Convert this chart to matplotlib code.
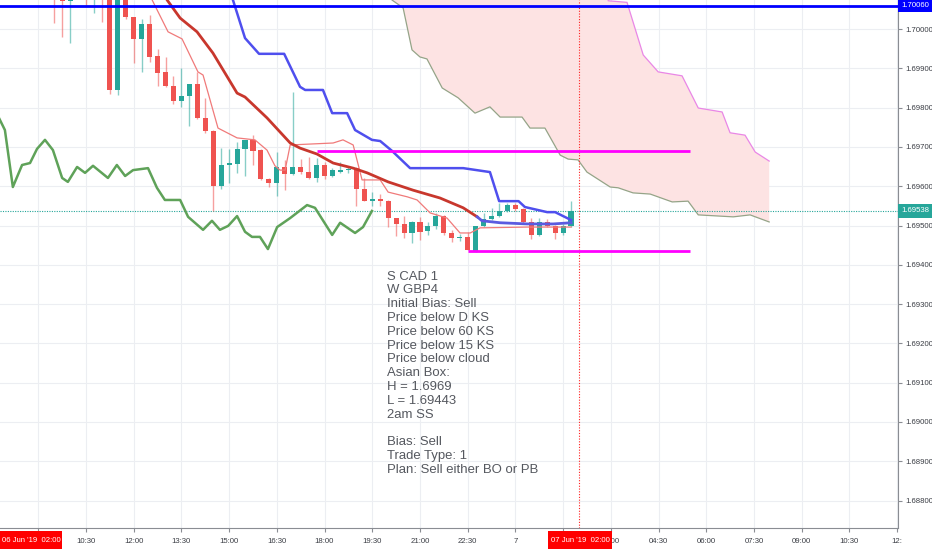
import matplotlib
matplotlib.use('Agg')
import matplotlib.pyplot as plt
import matplotlib.transforms as mtransforms
from matplotlib.patches import Rectangle
import numpy as np

# GBPCAD 15 min, time = hours since 06 Jun '19 00:00
bar_start = 9.5
bar_step = 0.25

opens = [1.70110, 1.70085, 1.70072, 1.70078, 1.70130, 1.70100, 1.70120, 1.70095, 1.69845, 1.70085,
         1.70031, 1.69975, 1.70012, 1.69931, 1.69892, 1.69855, 1.69817, 1.69830, 1.69860, 1.69774,
         1.69741, 1.69601, 1.69654, 1.69657, 1.69695, 1.69718, 1.69692, 1.69618, 1.69608, 1.69649,
         1.69631, 1.69649, 1.69636, 1.69621, 1.69654, 1.69626, 1.69636, 1.69641, 1.69646, 1.69593,
         1.69562, 1.69567, 1.69562, 1.69519, 1.69504, 1.69481, 1.69509, 1.69486, 1.69499, 1.69524,
         1.69481, 1.69468, 1.69471, 1.69436, 1.69499, 1.69517, 1.69524, 1.69537, 1.69552, 1.69542,
         1.69509, 1.69476, 1.69509, 1.69499, 1.69481, 1.69499]
highs = [1.70125, 1.70100, 1.70110, 1.70135, 1.70140, 1.70140, 1.70130, 1.70110, 1.70110, 1.70095,
         1.70032, 1.70026, 1.70036, 1.69949, 1.69929, 1.69881, 1.69901, 1.69861, 1.69891, 1.69825,
         1.69743, 1.69697, 1.69695, 1.69713, 1.69718, 1.69730, 1.69694, 1.69620, 1.69687, 1.69667,
         1.69840, 1.69669, 1.69674, 1.69672, 1.69662, 1.69646, 1.69662, 1.69650, 1.69648, 1.69621,
         1.69585, 1.69580, 1.69566, 1.69520, 1.69524, 1.69512, 1.69522, 1.69509, 1.69532, 1.69526,
         1.69489, 1.69478, 1.69484, 1.69500, 1.69532, 1.69545, 1.69557, 1.69557, 1.69557, 1.69545,
         1.69519, 1.69519, 1.69517, 1.69502, 1.69504, 1.69563]
lows = [1.70015, 1.69980, 1.69965, 1.70080, 1.70059, 1.70042, 1.70019, 1.69835, 1.69832, 1.70026,
        1.69914, 1.69891, 1.69916, 1.69855, 1.69853, 1.69809, 1.69802, 1.69753, 1.69772, 1.69736,
        1.69537, 1.69593, 1.69608, 1.69634, 1.69626, 1.69654, 1.69616, 1.69598, 1.69575, 1.69590,
        1.69629, 1.69631, 1.69618, 1.69611, 1.69618, 1.69624, 1.69634, 1.69634, 1.69550, 1.69562,
        1.69550, 1.69550, 1.69496, 1.69473, 1.69468, 1.69455, 1.69463, 1.69476, 1.69491, 1.69476,
        1.69458, 1.69460, 1.69437, 1.69433, 1.69496, 1.69514, 1.69522, 1.69534, 1.69537, 1.69507,
        1.69465, 1.69474, 1.69496, 1.69466, 1.69476, 1.69497]
closes = [1.70085, 1.70072, 1.70078, 1.70120, 1.70100, 1.70120, 1.70090, 1.69845, 1.70092, 1.70031,
          1.69975, 1.70013, 1.69929, 1.69888, 1.69855, 1.69817, 1.69830, 1.69860, 1.69774, 1.69741,
          1.69601, 1.69654, 1.69659, 1.69695, 1.69718, 1.69690, 1.69618, 1.69608, 1.69649, 1.69631,
          1.69649, 1.69636, 1.69621, 1.69654, 1.69626, 1.69641, 1.69641, 1.69645, 1.69593, 1.69562,
          1.69567, 1.69562, 1.69519, 1.69504, 1.69481, 1.69509, 1.69483, 1.69499, 1.69524, 1.69481,
          1.69468, 1.69471, 1.69438, 1.69499, 1.69517, 1.69524, 1.69537, 1.69552, 1.69542, 1.69509,
          1.69476, 1.69509, 1.69499, 1.69481, 1.69499, 1.69538]

# kijun (blue)
kijun_t = [14.95, 15.12, 15.50, 15.94, 16.73, 17.23, 17.39, 17.95, 18.24, 18.71, 18.96, 19.49, 19.75,
           20.12, 20.69, 22.36, 23.20, 23.49, 24.10, 24.30, 25.00, 25.25, 25.75]
kijun_p = [1.70110, 1.70074, 1.69977, 1.69937, 1.69937, 1.69853, 1.69845, 1.69845, 1.69786, 1.69786,
           1.69743, 1.69718, 1.69715, 1.69690, 1.69646, 1.69646, 1.69636, 1.69562, 1.69562, 1.69547,
           1.69534, 1.69534, 1.69514]

# moving average, red while falling, blue after the turn
ma_t = [12.67, 13.05, 13.46, 13.99, 14.49, 15.25, 15.50, 16.19, 16.92, 17.23, 17.76, 18.27, 18.90,
        19.34, 20.00, 20.78, 21.63, 22.36, 22.80, 22.95, 23.52, 24.37, 25.19, 25.75]
ma_p = [1.70138, 1.70074, 1.70028, 1.69993, 1.69939, 1.69837, 1.69827, 1.69774, 1.69710, 1.69697,
        1.69682, 1.69659, 1.69646, 1.69634, 1.69611, 1.69590, 1.69570, 1.69545, 1.69522, 1.69512,
        1.69507, 1.69504, 1.69504, 1.69507]
ma_turn = 22.80

# tenkan (thin red)
tenkan_t = [12.45, 12.58, 13.08, 13.52, 14.02, 14.18, 14.65, 15.25, 15.81, 16.19, 16.44, 16.60, 16.76,
            16.92, 18.27, 18.58, 18.90, 19.18, 19.75, 20.00, 20.60, 20.91, 21.32, 21.85, 22.26, 22.58,
            22.89, 24.37, 25.75]
tenkan_p = [1.70100, 1.70074, 1.69993, 1.69975, 1.69891, 1.69883, 1.69748, 1.69723, 1.69718, 1.69692,
            1.69652, 1.69641, 1.69641, 1.69705, 1.69710, 1.69718, 1.69705, 1.69616, 1.69616, 1.69585,
            1.69573, 1.69565, 1.69532, 1.69519, 1.69481, 1.69481, 1.69494, 1.69496, 1.69496]

# chikou (green)
chikou_t = [7.75, 7.95, 8.20, 8.49, 8.74, 8.96, 9.21, 9.46, 9.75, 9.93, 10.22, 10.47, 10.72, 11.19,
            11.47, 11.73, 11.98, 12.45, 12.73, 12.98, 13.46, 13.71, 14.18, 14.46, 14.71, 14.97, 15.25,
            15.50, 15.72, 15.97, 16.22, 16.51, 16.92, 17.45, 17.70, 18.24, 18.49, 18.96, 19.21, 19.49]
chikou_p = [1.69776, 1.69743, 1.69598, 1.69654, 1.69659, 1.69695, 1.69718, 1.69692, 1.69621, 1.69611,
            1.69649, 1.69634, 1.69652, 1.69621, 1.69654, 1.69626, 1.69641, 1.69646, 1.69596, 1.69565,
            1.69565, 1.69522, 1.69489, 1.69512, 1.69489, 1.69499, 1.69524, 1.69484, 1.69471, 1.69471,
            1.69440, 1.69496, 1.69519, 1.69552, 1.69545, 1.69476, 1.69507, 1.69481, 1.69496, 1.69537]

# cloud
span_a_t = [19.87, 20.12, 20.47, 20.75, 21.00, 21.22, 21.70, 22.20, 22.73, 23.20, 23.52, 24.21, 24.46,
            24.93, 25.41, 25.66, 25.97, 26.25, 26.98, 27.23, 27.70, 28.24, 28.93, 29.43, 29.75, 30.85,
            31.38, 31.98]
span_a_p = [1.70112, 1.70074, 1.70054, 1.69947, 1.69929, 1.69924, 1.69850, 1.69825, 1.69786, 1.69802,
            1.69776, 1.69776, 1.69748, 1.69748, 1.69679, 1.69669, 1.69667, 1.69636, 1.69598, 1.69596,
            1.69583, 1.69580, 1.69560, 1.69562, 1.69527, 1.69522, 1.69527, 1.69509]
span_b_t = [19.87, 26.75, 26.92, 27.51, 28.02, 28.49, 29.24, 29.75, 30.50, 30.75, 31.22, 31.54, 31.98]
span_b_p = [1.70160, 1.70160, 1.70072, 1.70068, 1.69934, 1.69891, 1.69881, 1.69799, 1.69789, 1.69736,
            1.69730, 1.69687, 1.69664]

# asian box
box_high = 1.69690
box_low = 1.69436
box_t = [17.75, 22.50, 29.50]   # high start, low start, end

blue_level = 1.70060
last_price = 1.69538
session_line = 26.0

note = ("S CAD 1\nW GBP4\nInitial Bias: Sell\nPrice below D KS\nPrice below 60 KS\n"
        "Price below 15 KS\nPrice below cloud\nAsian Box:\nH = 1.6969\nL = 1.69443\n2am SS\n\n"
        "Bias: Sell\nTrade Type: 1\nPlan: Sell either BO or PB")

# 09:00 and 01:30 sit under the red date boxes, so they get no text
x_ticks = [9, 10.5, 12, 13.5, 15, 16.5, 18, 19.5, 21, 22.5, 24, 25.5, 27, 28.5, 30, 31.5, 33, 34.5, 36]
x_labels = ['', '10:30', '12:00', '13:30', '15:00', '16:30', '18:00', '19:30', '21:00', '22:30',
            '7', '', '03:00', '04:30', '06:00', '07:30', '09:00', '10:30', '12:']

UP = '#26a69a'
DOWN = '#ef5350'
small_font = ['Liberation Sans', 'DejaVu Sans']
small_size = 5.6

fig = plt.figure(figsize=(9.32, 5.5), dpi=100)
ax = fig.add_axes([0, 22 / 550, 898 / 932, 528 / 550])
ax.set_xlim(7.796, 36.03)
ax.set_ylim(1.68730, 1.70074)

ax.set_xticks(x_ticks)
ax.set_xticklabels(x_labels)
ax.set_yticks(np.arange(1.688, 1.7005, 0.001))
ax.set_yticklabels(['%.5f' % v for v in np.arange(1.688, 1.7005, 0.001)])
ax.yaxis.tick_right()
ax.grid(True, color='#eceef2', lw=0.8, zorder=0)
ax.set_axisbelow(True)
for s in ['top', 'left']:
    ax.spines[s].set_visible(False)
for s in ['right', 'bottom']:
    ax.spines[s].set_color('#8a8d93')
ax.tick_params(axis='both', length=3, color='#8a8d93', labelcolor='#3a3d44',
               labelsize=small_size, pad=2)
ax.tick_params(axis='x', pad=4)
for lbl in ax.get_xticklabels() + ax.get_yticklabels():
    lbl.set_family(small_font)

# cloud
ax.fill(np.r_[span_a_t, span_b_t[::-1]], np.r_[span_a_p, span_b_p[::-1]],
        color='#fde3e3', lw=0, zorder=1)
ax.plot(span_a_t, span_a_p, color='#95a488', lw=0.9, zorder=2)
ax.plot(span_b_t, span_b_p, color='#e987e6', lw=0.9, zorder=2)

# candles
t = bar_start + bar_step * np.arange(len(opens))
o = np.array(opens)
c = np.array(closes)
col = np.where(c >= o, UP, DOWN)
ax.vlines(t, lows, highs, colors=col, lw=1, alpha=0.55, zorder=3)
body_h = np.maximum(np.abs(c - o), 0.00003)
ax.bar(t, body_h, bottom=np.minimum(o, c), width=0.16, color=col, lw=0, zorder=4)

# indicator lines
ax.plot(chikou_t, chikou_p, color='#5fa259', lw=1.8, zorder=5)
ax.plot(tenkan_t, tenkan_p, color='#f07a7a', lw=0.9, zorder=5)
ma_t = np.array(ma_t)
ma_p = np.array(ma_p)
ax.plot(ma_t[ma_t <= ma_turn], ma_p[ma_t <= ma_turn], color='#c8372d', lw=2, zorder=6)
ax.plot(ma_t[ma_t >= ma_turn], ma_p[ma_t >= ma_turn], color='#5b5be0', lw=2, zorder=6)
ax.plot(kijun_t, kijun_p, color='#4f4fee', lw=1.8, zorder=6)

ax.hlines(box_high, box_t[0], box_t[2], color='#ff00ff', lw=2, zorder=7)
ax.hlines(box_low, box_t[1], box_t[2], color='#ff00ff', lw=2, zorder=7)

ax.axhline(blue_level, color='#0000ff', lw=2, zorder=7)
ax.axhline(last_price, color=UP, lw=0.8, ls=(0, (1, 1.2)), zorder=2)
ax.axvline(session_line, color='#ff2020', lw=0.8, ls=(0, (1, 1.5)), zorder=2)

ax.text(19.97, 1.69385, note, ha='left', va='top', fontsize=9.43, linespacing=1.2,
        color='#55585f', family=['Liberation Sans', 'DejaVu Sans'], zorder=8)

# price labels on the right scale
tr = mtransforms.blended_transform_factory(ax.transAxes, ax.transData)
for level, fc in [(blue_level, '#0000ff'), (last_price, UP)]:
    ax.add_patch(Rectangle((1.0, level - 0.000178), 34 / 898, 0.000356, transform=tr,
                           fc=fc, ec='none', clip_on=False, zorder=10))
    ax.text(1.0 + 17 / 898, level, '%.5f' % level, transform=tr, ha='center', va='center',
            color='white', fontsize=small_size, family=small_font, clip_on=False, zorder=11)

# date labels on the time scale
for x0, w, txt in [(0, 62, "06 Jun '19  02:00"), (548, 64, "07 Jun '19  02:00")]:
    fig.patches.append(Rectangle((x0 / 932, 1 / 550), w / 932, 18 / 550, transform=fig.transFigure,
                                 fc='#ff0000', ec='none', zorder=10))
    fig.text((x0 + w / 2) / 932, 10 / 550, txt, ha='center', va='center', color='white',
             fontsize=small_size, family=small_font, zorder=11)

fig.savefig('out.png', dpi=100)
